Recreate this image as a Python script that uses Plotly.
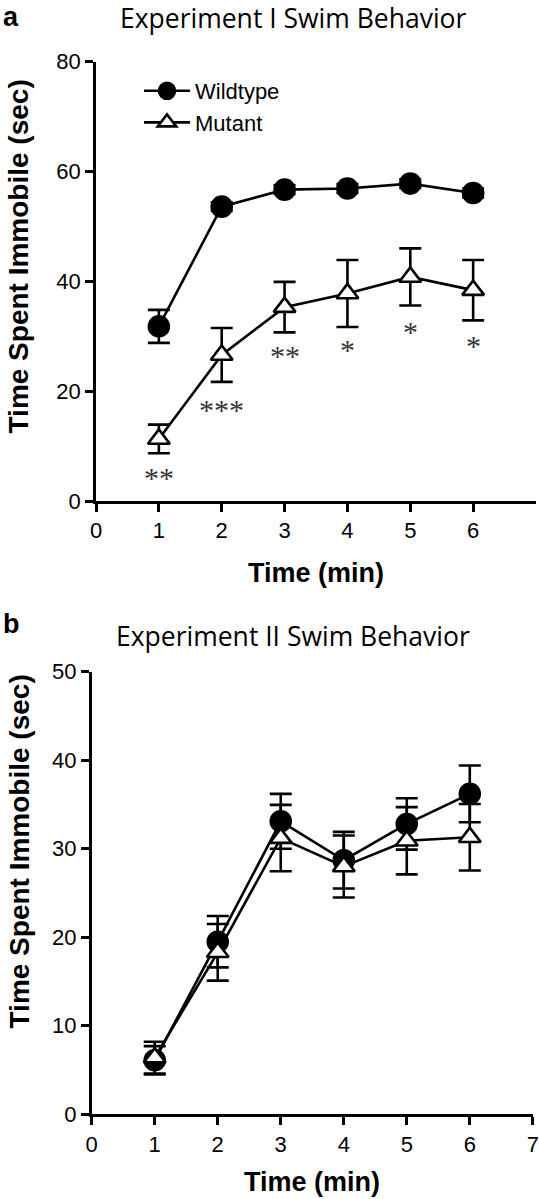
import plotly.graph_objects as go

W, H = 539, 1199

# ---- Data ----
time_min = [1, 2, 3, 4, 5, 6]

# Experiment I
exp1_wt = [31.8, 53.6, 56.7, 56.9, 57.8, 56.1]
exp1_wt_err = [3.0, 0.8, 0.8, 0.8, 0.8, 0.8]
exp1_mut = [11.3, 26.6, 35.3, 37.8, 40.8, 38.4]
exp1_mut_err = [2.6, 4.9, 4.6, 6.1, 5.2, 5.5]
exp1_sig = ["**", "***", "**", "*", "*", "*"]
exp1_sig_y = [4.6, 17.0, 26.8, 28.0, 31.2, 28.7]

# Experiment II
exp2_wt = [6.1, 19.5, 33.1, 28.7, 32.8, 36.2]
exp2_wt_err = [1.6, 2.9, 3.1, 3.2, 2.9, 3.2]
exp2_mut = [6.4, 18.3, 31.2, 28.0, 30.9, 31.3]
exp2_mut_err = [1.8, 3.2, 3.75, 3.5, 3.8, 3.75]

x_ticks_top = [0, 1, 2, 3, 4, 5, 6]
x_ticks_bottom = [0, 1, 2, 3, 4, 5, 6, 7]
y_ticks_top = [0, 20, 40, 60, 80]
y_ticks_bottom = [0, 10, 20, 30, 40, 50]

# ---- Styling ----
LW = 2.6
SANS = "Arial, Liberation Sans, sans-serif"
TITLE_FONT = "Open Sans, Noto Sans, sans-serif"

def px_x(p):
    return p / W

def px_y(p):
    return 1 - p / H

fig = go.Figure()

def add_series(xaxis, yaxis, y, err, name, symbol, fill, show):
    fig.add_trace(go.Scatter(
        x=time_min, y=y, name=name, mode="lines+markers",
        xaxis=xaxis, yaxis=yaxis, showlegend=show, legendgroup=name,
        line=dict(color="black", width=LW),
        marker=dict(symbol=symbol, size=20 if symbol == "circle" else 19,
                    color=fill, line=dict(color="black", width=LW)),
        error_y=dict(type="data", array=err, visible=True, color="black",
                     thickness=LW, width=11),
        cliponaxis=False,
    ))

add_series("x", "y", exp1_wt, exp1_wt_err, "Wildtype", "circle", "black", True)
add_series("x", "y", exp1_mut, exp1_mut_err, "Mutant", "triangle-up", "white", True)
add_series("x2", "y2", exp2_wt, exp2_wt_err, "Wildtype", "circle", "black", False)
add_series("x2", "y2", exp2_mut, exp2_mut_err, "Mutant", "triangle-up", "white", False)

axis_common = dict(showline=True, linecolor="black", linewidth=LW,
                   ticks="outside", ticklen=8, tickwidth=LW, tickcolor="black",
                   showgrid=False, zeroline=False, ticklabeloverflow="allow",
                   tickfont=dict(family=SANS, size=22, color="black"),
                   automargin=False)

fig.update_layout(
    width=W, height=H,
    margin=dict(l=0, r=0, t=0, b=0),
    paper_bgcolor="white", plot_bgcolor="white",
    xaxis=dict(domain=[px_x(96), px_x(536)], range=[0, 7], anchor="y",
               tickvals=x_ticks_top, **axis_common),
    yaxis=dict(domain=[px_y(501), px_y(61.7)], range=[0, 80], anchor="x",
               tickvals=y_ticks_top, **axis_common),
    xaxis2=dict(domain=[px_x(91.7), px_x(532.8)], range=[0, 7], anchor="y2",
                tickvals=x_ticks_bottom, **axis_common),
    yaxis2=dict(domain=[px_y(1114.3), px_y(671.7)], range=[0, 50], anchor="x2",
                tickvals=y_ticks_bottom, **axis_common),
    legend=dict(x=px_x(139), y=px_y(70), xanchor="left", yanchor="top",
                bgcolor="rgba(0,0,0,0)", font=dict(family=SANS, size=22, color="black"),
                traceorder="grouped", tracegroupgap=0, itemwidth=46),
    showlegend=True,
    hovermode=False,
)

annotations = []
# significance stars
for xv, s, yv in zip(time_min, exp1_sig, exp1_sig_y):
    annotations.append(dict(x=xv, y=yv, xref="x", yref="y", text=s, showarrow=False,
                            font=dict(family="Liberation Serif, serif", size=30, color="#333"),
                            xanchor="center", yanchor="middle", yshift=-2))

def text(x, y, t, size, family, bold=False, angle=0, xanchor="center", yanchor="middle"):
    annotations.append(dict(x=px_x(x), y=px_y(y), xref="paper", yref="paper",
                            text=f"<b>{t}</b>" if bold else t, showarrow=False,
                            textangle=angle, xanchor=xanchor, yanchor=yanchor,
                            borderpad=0,
                            font=dict(family=family, size=size, color="black")))

text(2, 17, "a", 27, SANS, bold=True, xanchor="left")
text(2, 624, "b", 27, SANS, bold=True, xanchor="left")
text(293, 17.5, "Experiment I Swim Behavior", 26.5, TITLE_FONT)
text(293, 636, "Experiment II Swim Behavior", 26.5, TITLE_FONT)
text(18.5, 257, "Time Spent Immobile (sec)", 28, SANS, bold=True, angle=-90)
text(18.5, 852, "Time Spent Immobile (sec)", 28, SANS, bold=True, angle=-90)
text(316, 573, "Time (min)", 27, SANS, bold=True)
text(312, 1182, "Time (min)", 27, SANS, bold=True)

fig.update_layout(annotations=annotations)

# remove the default page margin so the figure sits at the window's top-left
fig.write_html("out.html", config={"displayModeBar": False},
               post_script="document.body.style.margin='0px';")
